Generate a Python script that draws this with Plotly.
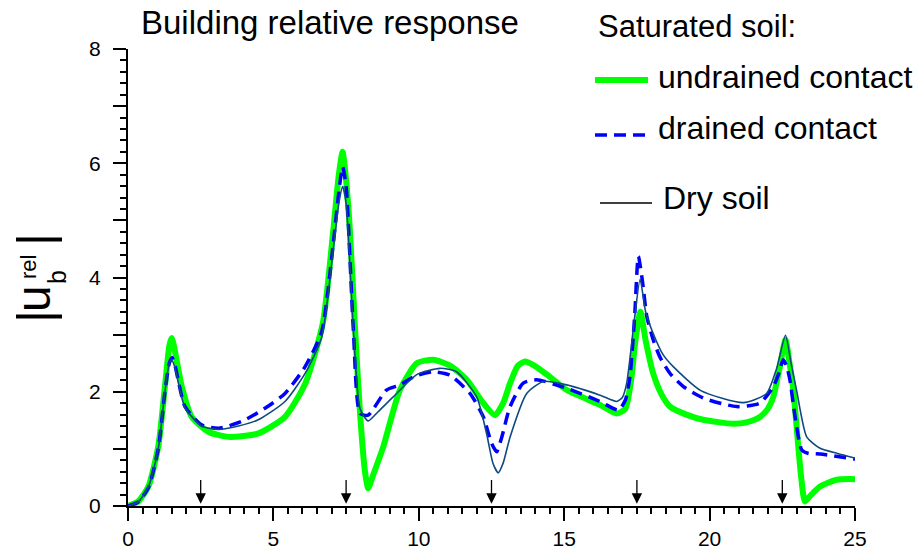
import plotly.graph_objects as go

# ---------------- data ----------------
undrained_x = [0, 0.35, 0.70, 1.04, 1.27, 1.42, 1.50, 1.58, 1.85, 2.19, 2.76, 3.45, 4.48, 5.40, 6.10,
               6.70, 7.06, 7.25, 7.38, 7.50, 7.63, 7.81, 7.98, 8.15, 8.26, 8.40, 8.78, 9.35, 9.93,
               10.50, 11.10, 11.65, 12.22, 12.62, 12.90, 13.14, 13.40, 13.65, 14.00, 14.51, 15.09,
               16.23, 16.80, 17.10, 17.30, 17.45, 17.62, 17.80, 18.06, 18.35, 18.64, 19.20, 19.78,
               20.82, 21.30, 21.73, 22.00, 22.19, 22.40, 22.61, 22.75, 22.88, 23.05, 23.15, 23.28,
               23.50, 23.80, 24.37, 25.0]
undrained_y = [0, 0.08, 0.34, 1.04, 2.09, 2.80, 2.94, 2.80, 2.09, 1.56, 1.30, 1.21, 1.27, 1.56, 2.15,
               3.20, 4.83, 5.80, 6.20, 5.70, 4.83, 3.08, 1.62, 0.60, 0.31, 0.50, 1.04, 2.03, 2.50,
               2.56, 2.45, 2.21, 1.80, 1.59, 1.80, 2.15, 2.45, 2.53, 2.45, 2.26, 2.03,
               1.77, 1.62, 1.70, 2.20, 2.90, 3.40, 2.90, 2.32, 1.95, 1.74, 1.60, 1.51,
               1.44, 1.47, 1.56, 1.70, 1.91, 2.40, 2.91, 2.50, 2.03, 1.04, 0.50, 0.08,
               0.20, 0.34, 0.46, 0.47]

drained_x = [0, 0.35, 0.70, 1.04, 1.27, 1.42, 1.52, 1.62, 1.96, 2.53, 3.11, 3.91, 4.71, 5.40, 6.09,
             6.66, 7.06, 7.25, 7.38, 7.50, 7.75, 7.98, 8.26, 8.89, 9.35, 9.90, 10.50, 11.07, 11.76,
             12.22, 12.50, 12.68, 12.85, 13.14, 13.59, 14.05, 15.09, 16.23, 16.86, 17.10, 17.26,
             17.42, 17.55, 17.70, 17.84, 18.06, 18.29, 18.64, 19.10, 19.78, 20.93, 21.73, 22.19,
             22.40, 22.53, 22.65, 22.76, 22.94, 23.17, 23.40, 23.80, 25.0]
drained_y = [0, 0.07, 0.32, 1.00, 2.00, 2.50, 2.60, 2.45, 1.74, 1.42, 1.36, 1.48, 1.71, 1.97, 2.44,
             3.05, 4.60, 5.50, 5.94, 5.60, 3.08, 1.62, 1.59, 2.03, 2.12, 2.28, 2.35, 2.29, 1.97,
             1.56, 1.10, 0.95, 1.20, 1.74, 2.15, 2.21, 2.06, 1.83, 1.68, 1.85, 2.26,
             3.30, 4.37, 3.90, 3.32, 2.91, 2.61, 2.32, 2.09, 1.89, 1.74, 1.80, 2.09,
             2.35, 2.56, 2.45, 2.21, 1.56, 0.98, 0.92, 0.91, 0.82]

dry_x = [0, 0.35, 0.70, 1.04, 1.27, 1.42, 1.50, 1.60, 1.96, 2.53, 3.11, 3.80, 4.48, 5.40, 6.09,
         6.66, 7.06, 7.25, 7.38, 7.50, 7.75, 7.98, 8.26, 8.60, 9.12, 9.93, 10.73, 11.30, 11.99,
         12.33, 12.55, 12.73, 12.90, 13.14, 13.71, 14.28, 15.09, 16.23, 16.80, 17.00, 17.15,
         17.40, 17.61, 17.80, 18.06, 18.40, 18.75, 19.70, 21.16, 21.96, 22.30, 22.61, 22.80,
         22.99, 23.34, 23.80, 24.40, 25.0]
dry_y = [0, 0.07, 0.33, 1.00, 2.00, 2.50, 2.56, 2.45, 1.72, 1.40, 1.34, 1.40, 1.51, 1.83, 2.32,
         2.95, 4.50, 5.30, 5.59, 5.30, 3.08, 1.70, 1.49, 1.65, 1.91, 2.30, 2.41, 2.35, 1.91,
         1.27, 0.75, 0.58, 0.75, 1.21, 1.97, 2.18, 2.12, 1.94, 1.83, 1.90, 2.15,
         3.20, 3.97, 3.40, 3.02, 2.65, 2.44, 2.02, 1.81, 1.97, 2.40, 2.99, 2.50,
         2.03, 1.21, 1.01, 0.92, 0.84]

arrow_x = [2.5, 7.5, 12.5, 17.5, 22.5]
x_ticks = [0, 5, 10, 15, 20, 25]
y_ticks = [0, 1, 2, 3, 4, 5, 6, 7, 8]
y_ticktext = ["0", "", "2", "", "4", "", "6", "", "8"]

GREEN = "#00ff00"
BLUE = "#0000ff"
NAVY = "#0d4a80"
FONT = "Liberation Sans, Arial, sans-serif"

fig = go.Figure()
fig.add_trace(go.Scatter(x=undrained_x, y=undrained_y, mode="lines", name="undrained contact",
                         line=dict(color=GREEN, width=6, shape="spline", smoothing=0.6),
                         showlegend=False))
fig.add_trace(go.Scatter(x=drained_x, y=drained_y, mode="lines", name="drained contact",
                         line=dict(color=BLUE, width=3.5, dash="12px,7px", shape="spline", smoothing=0.6),
                         showlegend=False))
fig.add_trace(go.Scatter(x=dry_x, y=dry_y, mode="lines", name="Dry soil",
                         line=dict(color=NAVY, width=1.6, shape="spline", smoothing=0.6),
                         showlegend=False))

L, R, T, B = 128, 63, 49, 44
W, H = 918, 550
PW, PH = W - L - R, H - T - B


def px(xp):
    return (xp - L) / PW


def py(yp):
    return (H - B - yp) / PH


annotations = []
for ax_ in arrow_x:
    annotations.append(dict(x=ax_, y=0.04, ax=ax_, ay=0.48, xref="x", yref="y", axref="x", ayref="y",
                            text="", showarrow=True, arrowhead=2, arrowsize=1.6, arrowwidth=1.3,
                            arrowcolor="black"))

# title
annotations.append(dict(x=px(139), y=py(22), xref="paper", yref="paper", xanchor="left", yanchor="middle",
                        text="Building relative response", showarrow=False,
                        font=dict(family=FONT, size=33, color="black")))
# legend texts
annotations.append(dict(x=px(596), y=py(26), xref="paper", yref="paper", xanchor="left", yanchor="middle",
                        text="Saturated soil:", showarrow=False, font=dict(family=FONT, size=31, color="black")))
annotations.append(dict(x=px(656), y=py(77), xref="paper", yref="paper", xanchor="left", yanchor="middle",
                        text="undrained contact", showarrow=False, font=dict(family=FONT, size=32, color="black")))
annotations.append(dict(x=px(656), y=py(128), xref="paper", yref="paper", xanchor="left", yanchor="middle",
                        text="drained contact", showarrow=False, font=dict(family=FONT, size=32, color="black")))
annotations.append(dict(x=px(661), y=py(198), xref="paper", yref="paper", xanchor="left", yanchor="middle",
                        text="Dry soil", showarrow=False, font=dict(family=FONT, size=32, color="black")))

# y-axis label pieces (rotated)
annotations.append(dict(x=px(35), y=py(240), xref="paper", yref="paper", xanchor="center", yanchor="middle",
                        text="|", textangle=-90, showarrow=False, font=dict(family=FONT, size=50, color="black")))
annotations.append(dict(x=px(35), y=py(317), xref="paper", yref="paper", xanchor="center", yanchor="middle",
                        text="|", textangle=-90, showarrow=False, font=dict(family=FONT, size=50, color="black")))
annotations.append(dict(x=px(33), y=py(299), xref="paper", yref="paper", xanchor="center", yanchor="middle",
                        text="u", textangle=-90, showarrow=False, font=dict(family=FONT, size=48, color="black")))
annotations.append(dict(x=px(28), y=py(267), xref="paper", yref="paper", xanchor="center", yanchor="middle",
                        text="rel", textangle=-90, showarrow=False, font=dict(family=FONT, size=22, color="black")))
annotations.append(dict(x=px(57), y=py(277), xref="paper", yref="paper", xanchor="center", yanchor="middle",
                        text="b", textangle=-90, showarrow=False, font=dict(family=FONT, size=25, color="black")))

shapes = [
    dict(type="line", xref="paper", yref="paper", x0=px(595), x1=px(648), y0=py(80), y1=py(80),
         line=dict(color=GREEN, width=6)),
    dict(type="line", xref="paper", yref="paper", x0=px(595), x1=px(648), y0=py(135), y1=py(135),
         line=dict(color=BLUE, width=3.5, dash="12px,7px")),
    dict(type="line", xref="paper", yref="paper", x0=px(600), x1=px(652), y0=py(203), y1=py(203),
         line=dict(color="black", width=1.5)),
]

fig.update_layout(
    width=W, height=H,
    margin=dict(l=L, r=R, t=T, b=B, pad=0, autoexpand=False),
    paper_bgcolor="white", plot_bgcolor="white",
    font=dict(family=FONT, size=20, color="black"),
    annotations=annotations, shapes=shapes,
    xaxis=dict(range=[0, 25], tickvals=x_ticks, ticks="outside", ticklen=13, tickwidth=2,
               tickcolor="black", showline=True, linecolor="black", linewidth=2, showgrid=False,
               zeroline=False, automargin=False, tickfont=dict(size=21),
               minor=dict(dtick=0.5, ticks="outside", ticklen=6, tickwidth=1.5, tickcolor="black",
                          showgrid=False)),
    yaxis=dict(range=[0, 8], tickvals=y_ticks, ticktext=y_ticktext, ticks="outside", ticklen=13,
               tickwidth=2, tickcolor="black", showline=True, linecolor="black", linewidth=2,
               showgrid=False, zeroline=False, automargin=False, ticklabelstandoff=8,
               tickfont=dict(size=21),
               minor=dict(dtick=0.2, ticks="outside", ticklen=6, tickwidth=1.5, tickcolor="black",
                          showgrid=False)),
)

fig.write_html("out.html")
